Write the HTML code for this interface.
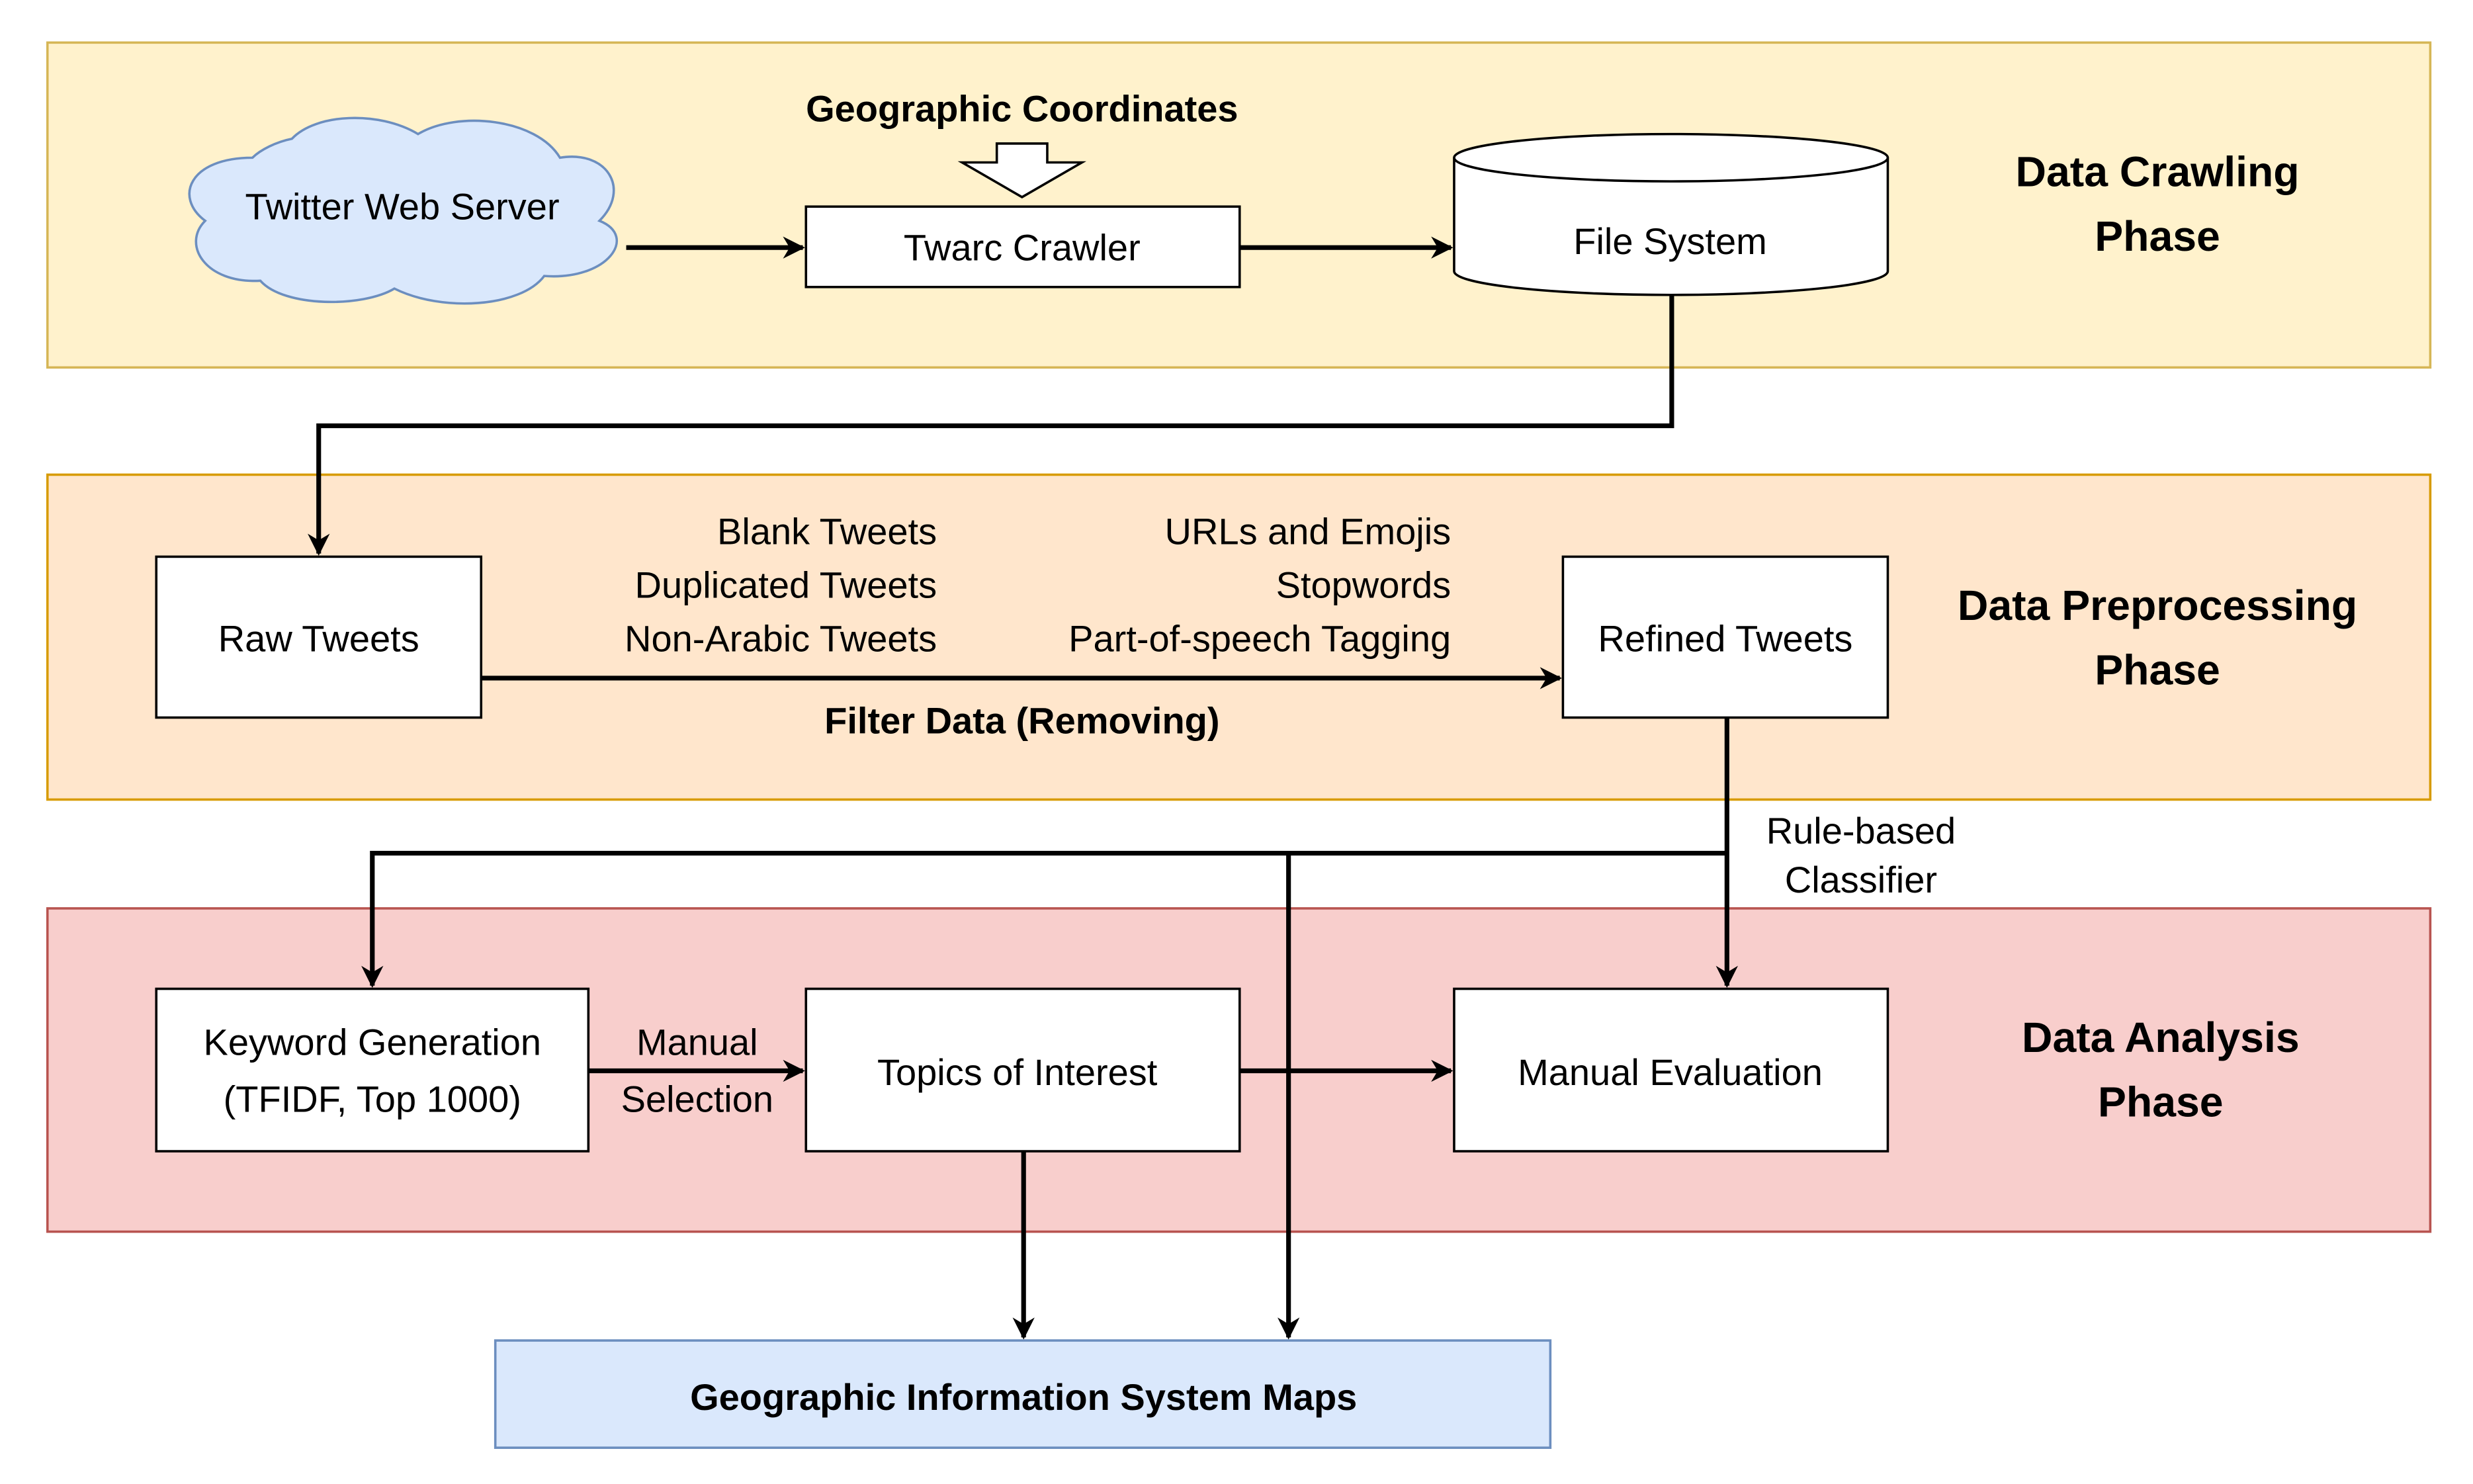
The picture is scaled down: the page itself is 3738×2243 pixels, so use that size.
<!DOCTYPE html>
<html><head><meta charset="utf-8"><style>html,body{margin:0;padding:0;background:#fff}svg{display:block}text{font-family:"Liberation Sans",Arial,sans-serif;fill:#000}</style></head>
<body>
<svg width="3738" height="2243" viewBox="0 0 1568 941" xmlns="http://www.w3.org/2000/svg">
<defs>
<marker id="b" viewBox="0 0 10 10" refX="9" refY="5" markerWidth="14" markerHeight="14" orient="auto" markerUnits="userSpaceOnUse"><path d="M0,0 L10,5 L0,10 L3,5 z" fill="#000"/></marker></defs>
<rect x="30" y="27" width="1511" height="206" fill="#fff2cc" stroke="#d6b656" stroke-width="1.5"/>
<rect x="30" y="301" width="1511" height="206" fill="#ffe6cc" stroke="#d79b00" stroke-width="1.5"/>
<rect x="30" y="576" width="1511" height="205" fill="#f8cecc" stroke="#b85450" stroke-width="1.5"/>
<rect x="314" y="850" width="669" height="68" fill="#dae8fc" stroke="#6c8ebf" stroke-width="1.5"/>
<g font-size="27" font-weight="bold" text-anchor="middle">
<text x="1368" y="118">Data Crawling</text><text x="1368" y="159">Phase</text>
<text x="1368" y="393">Data Preprocessing</text><text x="1368" y="434">Phase</text>
<text x="1370" y="667">Data Analysis</text><text x="1370" y="708">Phase</text>
</g>
<path d="M160,100 C120,100 110,125 130,140 C115,155 130,180 165,178 C180,195 230,195 250,183 C280,198 330,195 345,175 C385,178 405,150 380,140 C400,120 385,95 355,100 C340,75 290,70 265,85 C240,70 200,72 185,88 C175,90 165,95 160,100 Z" fill="#dae8fc" stroke="#6c8ebf" stroke-width="1.5"/>
<g font-size="23.5">
<text x="255" y="139" text-anchor="middle">Twitter Web Server</text>
<rect x="511" y="131" width="275" height="51" fill="#fff" stroke="#000" stroke-width="1.5"/>
<text x="648" y="165" text-anchor="middle">Twarc Crawler</text>
<text x="648" y="77" font-weight="bold" text-anchor="middle">Geographic Coordinates</text>
<path d="M632,91 L664,91 L664,103 L686,103 L648,125 L610,103 L632,103 Z" fill="#fff" stroke="#000" stroke-width="1.5"/>
<path d="M922,100 L922,172 A137.5,15 0 0 0 1197,172 L1197,100" fill="#fff" stroke="#000" stroke-width="1.5"/>
<ellipse cx="1059.5" cy="100" rx="137.5" ry="15" fill="#fff" stroke="#000" stroke-width="1.5"/>
<text x="1059" y="161" text-anchor="middle">File System</text>
<rect x="99" y="353" width="206" height="102" fill="#fff" stroke="#000" stroke-width="1.5"/>
<text x="202" y="413" text-anchor="middle">Raw Tweets</text>
<rect x="991" y="353" width="206" height="102" fill="#fff" stroke="#000" stroke-width="1.5"/>
<text x="1094" y="413" text-anchor="middle">Refined Tweets</text>
<g text-anchor="end">
<text x="594" y="345">Blank Tweets</text><text x="594" y="379">Duplicated Tweets</text><text x="594" y="413">Non-Arabic Tweets</text>
<text x="920" y="345">URLs and Emojis</text><text x="920" y="379">Stopwords</text><text x="920" y="413">Part-of-speech Tagging</text>
</g>
<text x="648" y="465" font-weight="bold" text-anchor="middle">Filter Data (Removing)</text>
<text x="1180" y="535" text-anchor="middle">Rule-based</text>
<text x="1180" y="566" text-anchor="middle">Classifier</text>
<rect x="99" y="627" width="274" height="103" fill="#fff" stroke="#000" stroke-width="1.5"/>
<text x="236" y="669" text-anchor="middle">Keyword Generation</text>
<text x="236" y="705" text-anchor="middle">(TFIDF, Top 1000)</text>
<rect x="511" y="627" width="275" height="103" fill="#fff" stroke="#000" stroke-width="1.5"/>
<text x="645" y="688" text-anchor="middle">Topics of Interest</text>
<rect x="922" y="627" width="275" height="103" fill="#fff" stroke="#000" stroke-width="1.5"/>
<text x="1059" y="688" text-anchor="middle">Manual Evaluation</text>
<text x="442" y="669" text-anchor="middle">Manual</text>
<text x="442" y="705" text-anchor="middle">Selection</text>
<text x="649" y="894" font-weight="bold" text-anchor="middle">Geographic Information System Maps</text>
</g>
<g stroke="#000" stroke-width="3" fill="none">
<path d="M397,157 L509,157" marker-end="url(#b)"/>
<path d="M786,157 L920,157" marker-end="url(#b)"/>
<path d="M1060,187 L1060,270 L202,270 L202,351" marker-end="url(#b)"/>
<path d="M305,430 L989,430" marker-end="url(#b)"/>
<path d="M1095,455 L1095,625" marker-end="url(#b)"/>
<path d="M1095,541 L236,541 L236,625" marker-end="url(#b)"/>
<path d="M817,541 L817,848" marker-end="url(#b)"/>
<path d="M373,679 L509,679" marker-end="url(#b)"/>
<path d="M786,679 L920,679" marker-end="url(#b)"/>
<path d="M649,730 L649,848" marker-end="url(#b)"/>
</g>
</svg>
</body></html>
